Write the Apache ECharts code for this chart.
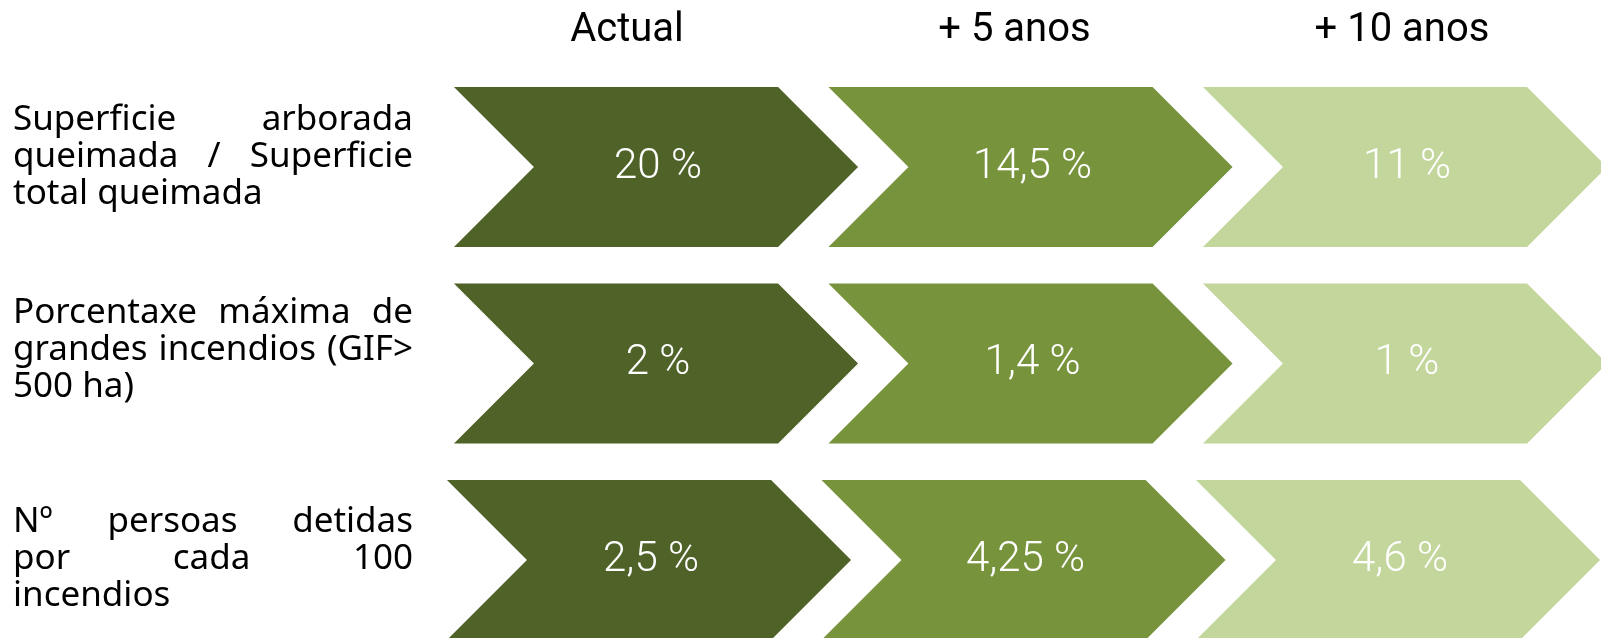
<!DOCTYPE html>
<html>
<head>
<meta charset="utf-8">
<script src="https://cdn.jsdelivr.net/npm/echarts@6/dist/echarts.min.js"></script>
<style>
html, body { margin: 0; padding: 0; background: #fff; }
#chart { width: 1601px; height: 638px; }
</style>
</head>
<body>
<div id="chart"></div>
<script>
// data
const columns = ['Actual', '+ 5 anos', '+ 10 anos'];
const rowKeys = ['superficie', 'gif', 'detidas'];
const rowLabels = [
  ['Superficie arborada', 'queimada / Superficie', 'total queimada'],
  ['Porcentaxe máxima de', 'grandes incendios (GIF>', '500 ha)'],
  ['Nº persoas detidas', 'por cada 100', 'incendios']
];
const actualValues = [20, 2, 2.5];
const fiveYearValues = [14.5, 1.4, 4.25];
const tenYearValues = [11, 1, 4.6];

// layout / style
const colColors = ['#4F6228', '#77933C', '#C3D69B'];
const rowShift = [0, 0, -7];
const labelDy = [-10, -13, -1];
const headerDx = [-29, -16, -3];
const lineGap = 37;
const labelFontSize = 35;
const labelFontFamily = "'Noto Sans'";

const seriesValues = [actualValues, fiveYearValues, tenYearValues];
const chevronData = [];
rowKeys.forEach((k, r) => {
  seriesValues.forEach((vals, c) => {
    chevronData.push([c, r, vals[r]]);
  });
});

function fmt(v) {
  return String(v).replace('.', ',') + ' %';
}

// justify text lines like the original table
const ctx = document.createElement('canvas').getContext('2d');
function lineWords(line, justify, left, right) {
  const words = line.split(' ');
  if (!justify || words.length < 2) return [{ text: line, x: left }];
  ctx.font = 'normal normal ' + labelFontSize + 'px ' + labelFontFamily;
  const widths = words.map(w => ctx.measureText(w).width);
  const total = widths.reduce((a, b) => a + b, 0);
  const gap = (right - left - total) / (words.length - 1);
  let x = left;
  const out = [];
  words.forEach((w, i) => {
    out.push({ text: w, x: x });
    x += widths[i] + gap;
  });
  return out;
}

const myChart = echarts.init(document.getElementById('chart'));

const option = {
  animation: false,
  grid: { left: 468.75, top: 68.75, width: 1123.5, height: 589.5, outerBoundsMode: 'none', containLabel: false },
  xAxis: { type: 'category', data: columns, show: false },
  yAxis: { type: 'category', data: rowKeys, inverse: true, show: false },
  series: [
    {
      type: 'custom',
      name: 'chevrons',
      clip: false,
      data: chevronData,
      renderItem(params, api) {
        const c = api.value(0), r = api.value(1);
        const p = api.coord([c, r]);
        const bw = api.size([1, 0])[0];
        const bh = api.size([0, 1])[1];
        const w = bw * 1.079, h = bh * 0.814, d = h / 2;
        const x0 = p[0] - w / 2 + rowShift[r];
        const top = p[1] - h / 2, bot = p[1] + h / 2;
        return {
          type: 'group',
          children: [
            {
              type: 'polygon',
              shape: {
                points: [[x0, top], [x0 + w - d, top], [x0 + w, p[1]],
                         [x0 + w - d, bot], [x0, bot], [x0 + d, p[1]]]
              },
              style: { fill: colColors[c] }
            },
            {
              type: 'text',
              style: {
                text: fmt(api.value(2)),
                x: p[0] + rowShift[r] + 2,
                y: p[1],
                align: 'center',
                verticalAlign: 'middle',
                fill: '#fff',
                fontSize: 42,
                fontWeight: 300,
                fontFamily: 'Roboto'
              }
            }
          ]
        };
      }
    },
    {
      type: 'custom',
      name: 'headers',
      clip: false,
      data: columns.map((c, i) => [i, 0]),
      renderItem(params, api) {
        const c = api.value(0);
        const p = api.coord([c, 0]);
        return {
          type: 'text',
          style: {
            text: columns[c],
            x: p[0] + headerDx[c],
            y: 31,
            align: 'center',
            verticalAlign: 'middle',
            fill: '#000',
            fontSize: 40,
            fontFamily: 'Roboto'
          }
        };
      }
    },
    {
      type: 'custom',
      name: 'labels',
      clip: false,
      data: rowKeys.map((k, i) => [0, i]),
      renderItem(params, api) {
        const r = api.value(1);
        const cy = api.coord([0, r])[1] + labelDy[r];
        const lines = rowLabels[r];
        const children = [];
        lines.forEach((line, i) => {
          const y = cy + (i - 1) * lineGap;
          lineWords(line, i < lines.length - 1, 13, 413).forEach(w => {
            children.push({
              type: 'text',
              style: {
                text: w.text,
                x: w.x,
                y: y,
                align: 'left',
                verticalAlign: 'middle',
                fill: '#000',
                fontSize: labelFontSize,
                fontFamily: labelFontFamily
              }
            });
          });
        });
        return { type: 'group', children: children };
      }
    }
  ]
};

myChart.setOption(option);
</script>
</body>
</html>
